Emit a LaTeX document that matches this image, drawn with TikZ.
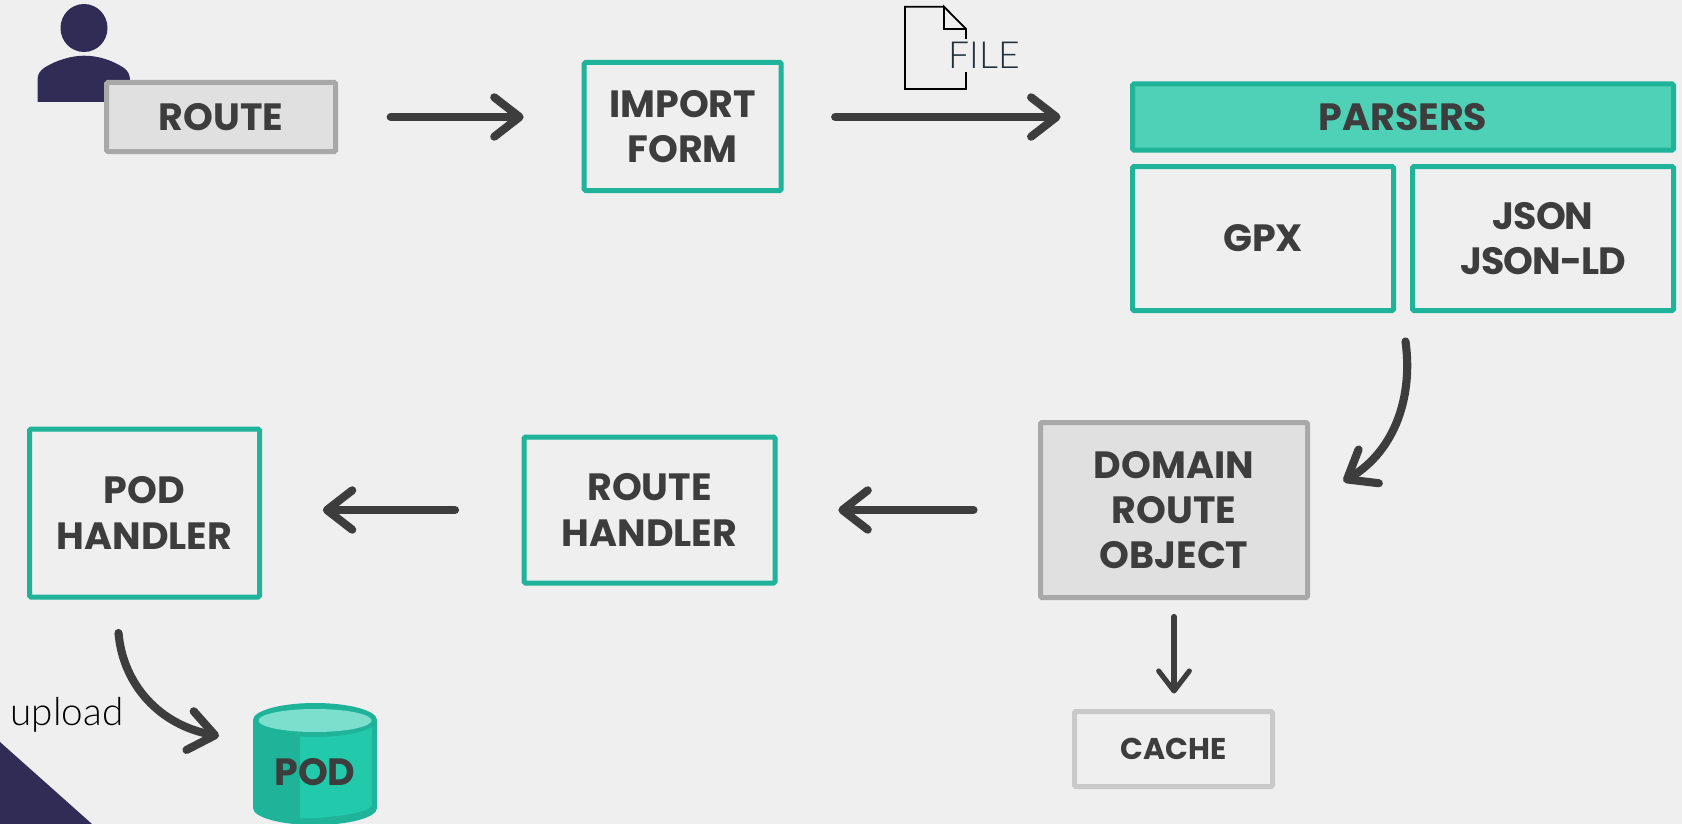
\documentclass[tikz,border=0pt]{standalone}
\usepackage{fontspec}
\usetikzlibrary{arrows.meta,calc}
\setmainfont{Poppins}[BoldFont=* Bold]
\newfontfamily\lightfont{Lato}[UprightFont=* Light]
\definecolor{bgc}{HTML}{EFEFEF}
\definecolor{teal}{HTML}{1FB39A}
\definecolor{tealfill}{HTML}{4FD1B8}
\definecolor{graybd}{HTML}{A8A8A8}
\definecolor{grayfill}{HTML}{E0E0E0}
\definecolor{cachebd}{HTML}{C9C9C9}
\definecolor{ink}{HTML}{3D3D3D}
\definecolor{navy}{HTML}{312C55}
\definecolor{podlight}{HTML}{22C9AB}
\definecolor{podtop}{HTML}{7CDFCE}
\definecolor{filetxt}{HTML}{22303A}
\tikzset{
  x=0.75pt,y=-0.75pt,
  label text/.style={font=\fontsize{28.5}{34}\selectfont\bfseries,text=ink,align=center,inner sep=0pt,outer sep=0pt},
  box/.style={label text,rectangle,rounded corners=1pt,line width=3.75pt},
  tealbox/.style={box,draw=teal},
  graybox/.style={box,draw=graybd,fill=grayfill},
  conn/.style={draw=ink,line width=6.1pt,line cap=round,-{Straight Barb[length=19pt,width=29.5pt,round]}},
  thinconn/.style={draw=ink,line width=3.8pt,line cap=round,-{Straight Barb[length=15pt,width=23pt,round]}},
}
\begin{document}
\begin{tikzpicture}
\useasboundingbox (0,0) rectangle (1682,824);
\clip (0,0) rectangle (1682,824);
\fill[bgc] (0,0) rectangle (1682,824);
% corner triangle
\fill[navy] (0,742) -- (92,824) -- (0,824) -- cycle;
% person
\fill[navy] (84,28) ellipse [x radius=23.5,y radius=24];
\fill[navy] (37.5,102) -- (37.5,80) .. controls (37.5,74) and (40,71) .. (44,68) .. controls (56,60) and (72,55.7) .. (84,55.7) .. controls (98,55.7) and (112,60) .. (124,68) .. controls (128,71) and (130,75) .. (130,80) -- (130,102) -- cycle;
% boxes
\node[graybox,minimum width=229*0.75pt,minimum height=69*0.75pt] (route) at (221.2,117) {ROUTE};
\node[tealbox,minimum width=197*0.75pt,minimum height=128*0.75pt] (importform) at (682.7,126.5) {IMPORT\\FORM};
\node[box,draw=teal,fill=tealfill,minimum width=541*0.75pt,minimum height=66*0.75pt] (parsers) at (1403,117) {PARSERS};
\node[tealbox,minimum width=261*0.75pt,minimum height=144*0.75pt] (gpx) at (1263,238.5) {GPX};
\node[tealbox,minimum width=261*0.75pt,minimum height=144*0.75pt,font=\fontsize{28.5}{34}\selectfont\bfseries\addfontfeature{LetterSpace=-2.5}] (json) at (1543,238.5) {JSON\\JSON-LD};
\node[graybox,minimum width=267*0.75pt,minimum height=175*0.75pt] (domain) at (1174,510) {DOMAIN\\ROUTE\\OBJECT};
\node[tealbox,minimum width=251*0.75pt,minimum height=146*0.75pt] (routehandler) at (649.5,510) {ROUTE\\HANDLER};
\node[tealbox,minimum width=230*0.75pt,minimum height=168*0.75pt] (podhandler) at (144.5,513) {POD\\HANDLER};
\node[box,draw=cachebd,minimum width=198*0.75pt,minimum height=75*0.75pt,font=\fontsize{22.5}{26}\selectfont\bfseries] (cache) at (1173.5,749) {CACHE};
% cylinder
\fill[teal] (253,720) -- (253,808) arc[start angle=180,end angle=0,x radius=62,y radius=17] -- (377,720) -- cycle;
\fill[podlight] (300,730) -- (300,818.5) .. controls (335,818) and (372,812) .. (372,805) -- (372,725) -- cycle;
\fill[teal] (315,720) ellipse [x radius=62,y radius=17];
\fill[podtop] (315,720.5) ellipse [x radius=56.5,y radius=11.5];
\node[label text] (pod) at (315,772) {POD};
% file icon
\draw[black,line width=1.35pt,line join=miter] (944,6.7) -- (905,6.7) -- (905,89) -- (966,89) -- (966,29) -- (944,6.7) -- (944,29) -- (966,29);
\node[fill=bgc,inner sep=0pt,minimum height=33*0.75pt,minimum width=70*0.75pt,text=filetxt,font=\lightfont\fontsize{28}{30}\selectfont] (file) at (984,55.5) {FILE};
% labels
\node[font=\lightfont\fontsize{29}{30}\selectfont,text=black,inner sep=0pt] (upload) at (67,715) {upload};
% connectors
\coordinate (c1) at ($(route.east)+(55,0)$);
\coordinate (c2) at ($(importform.east |- route.east)+(54,0)$);
\draw[conn,shorten >=45.4pt] (c1) -- (c1 -| importform.west);
\draw[conn,shorten >=54pt] (c2) -- (c2 -| parsers.west);
\coordinate (p0) at ($(json.south west)+(-7,31)$);
\coordinate (p1) at ($(domain.north east)+(36,59)$);
\draw[conn] (p0) .. controls (1413,395) and (1396,450) .. (p1);
\coordinate (d0) at ($(domain.west)+(-67,0)$);
\draw[conn,shorten >=47.5pt] (d0) -- (routehandler.east);
\coordinate (r0) at ($(routehandler.west)+(-69,0)$);
\draw[conn,shorten >=47.5pt] (r0) -- (r0 -| podhandler.east);
\coordinate (h0) at ($(podhandler.south west)+(89,36)$);
\coordinate (h1) at ($(pod)+(-96,-36)$);
\draw[conn] (h0) .. controls (123,685) and (160,725) .. (h1);
\coordinate (e0) at ($(domain.south)+(0,19)$);
\draw[thinconn,shorten >=13.5pt] (e0) -- (e0 |- cache.north);
\end{tikzpicture}
\end{document}
